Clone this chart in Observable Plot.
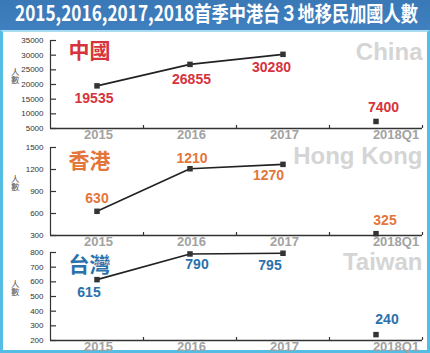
<!DOCTYPE html>
<html>
<head>
<meta charset="utf-8">
<script src="https://cdn.jsdelivr.net/npm/d3@7"></script>
<script src="https://cdn.jsdelivr.net/npm/@observablehq/plot@0.6"></script>
<style>
  html, body { margin: 0; padding: 0; }
  body { width: 430px; height: 353px; position: relative; overflow: hidden; background: #fff; font-family: "Liberation Sans", Arial, sans-serif; }
  #title { position: absolute; left: 0; top: 0; width: 430px; height: 30px; background: linear-gradient(#3a78b6, #3f80c0); }
  #title span { position: absolute; left: 15px; top: 0px; line-height: 25px; font-size: 21px; font-weight: bold; color: #fff; white-space: nowrap; font-family: "Noto Sans CJK TC", "Liberation Sans", sans-serif; transform-origin: 0 50%; }
  #frame { position: absolute; left: 0; top: 30px; width: 430px; height: 323px; box-sizing: border-box; border: 3px solid #55bde3; border-top: 2px solid #a9dcf0; background: #fff; }
  .panel { position: absolute; left: 0; }
</style>
</head>
<body>
<div id="title"><span id="titletext">2015,2016,2017,2018首季中港台３地移民加國人數</span></div>
<div id="frame"></div>
<script>
// ---- data ----
const categories = ["2015", "2016", "2017", "2018Q1"];
const lineCategories = ["2015", "2016", "2017"];
const chinaValues = [19535, 26855, 30280, 7400];
const hongKongValues = [630, 1210, 1270, 325];
const taiwanValues = [615, 790, 795, 240];
const chinaTicks = [5000, 10000, 15000, 20000, 25000, 30000, 35000];
const hongKongTicks = [300, 600, 900, 1200, 1500];
const taiwanTicks = [200, 300, 400, 500, 600, 700, 800];
const panelNames = ["中國", "香港", "台灣"];
const englishNames = ["China", "Hong Kong", "Taiwan"];
const yLabel = "人\n數";

// ---- styling (label offsets, colors, layout) ----
const colors = ["#d6333d", "#e3763b", "#2b71ab"];
const labelOffsets = [
  [[-3, 13], [1.5, 15], [-11.5, 13], [7.5, -14]],
  [[0, -13], [2, -10], [-14.5, 11], [9, -13.5]],
  [[-8, 13], [7, 11], [-13, 12], [11, -15]]
];
const nameDy = [11, 13.3, 12.5];
const engDy = [12, 8.5, 10.3];
const tops = [30, 137, 242];

const W = 430, H = 110, ML = 50, MR = 8, MT = 10, MB = 12;
const bw = (W - ML - MR) / categories.length;

function makePanel(i, values, ticks) {
  const rows = categories.map((c, k) => ({cat: c, v: values[k]}));
  const lineRows = rows.filter(d => lineCategories.includes(d.cat));
  const y0 = ticks[0], y1 = ticks[ticks.length - 1];
  const color = colors[i];
  const marks = [
    // y axis line
    Plot.ruleX([categories[0]], {x: d => d, y1: y0, y2: y1, dx: -bw / 2, stroke: "#333", strokeWidth: 1.2}),
    // y tick labels
    Plot.axisY({ticks, tickFormat: d => String(d), tickSize: 0, tickPadding: 7, fontSize: 8, fill: "#333", fontFamily: "'Liberation Sans Narrow', 'Liberation Sans', Arial, sans-serif"}),
    // inward y ticks
    Plot.axisY({ticks, tickSize: 6, dx: 6, fill: "none", stroke: "#333", strokeWidth: 1.2}),
    // x axis line
    Plot.ruleY([y0], {stroke: "#333", strokeWidth: 1.6}),
    // x boundary ticks
    Plot.axisX({tickSize: 3, dy: -3, dx: bw / 2, fill: "none", stroke: "#333", strokeWidth: 1.2}),
    // x tick labels
    Plot.axisX({ticks: categories.slice(0, 3), tickSize: 0, tickPadding: 1, dx: 1.5, fontSize: 13, fontWeight: "bold", fill: "#a2a2a2"}),
    Plot.axisX({ticks: categories.slice(3), tickSize: 0, tickPadding: 1, dx: 20, fontSize: 13, fontWeight: "bold", fill: "#a2a2a2"}),
    // english watermark
    Plot.text([englishNames[i]], {frameAnchor: "top-right", lineAnchor: "middle", dy: engDy[i], textAnchor: "end", fontSize: 24, fontWeight: "bold", fill: "#d5d5d5"}),
    // panel name
    Plot.text([panelNames[i]], {frameAnchor: "top-left", lineAnchor: "middle", dx: 18, dy: nameDy[i], textAnchor: "start", fontSize: 21, fontWeight: "bold", fill: color, fontFamily: "'Noto Sans CJK TC', sans-serif"}),
    // y label
    Plot.text([yLabel], {frameAnchor: "left", dx: -39.5, dy: -8, lineHeight: 0.9, fontSize: 8.5, fill: "#555", fontFamily: "'Noto Sans CJK TC', sans-serif"}),
    // line
    Plot.line(lineRows, {x: "cat", y: "v", stroke: "#222", strokeWidth: 1.6}),
    // markers
    Plot.dot(rows, {x: "cat", y: "v", symbol: "square", r: 3.1, fill: "#333", stroke: "none"}),
    // value labels
    ...rows.map((d, k) => Plot.text([d], {x: "cat", y: "v", text: d => String(d.v), dx: labelOffsets[i][k][0], dy: labelOffsets[i][k][1], fontSize: 14, fontWeight: "bold", fill: color}))
  ];
  const svg = Plot.plot({
    width: W, height: H,
    marginLeft: ML, marginRight: MR, marginTop: MT, marginBottom: MB,
    style: {background: "transparent", overflow: "visible", fontFamily: "'Liberation Sans', Arial, sans-serif"},
    x: {type: "band", domain: categories, padding: 0, label: null},
    y: {domain: [y0, y1], label: null},
    marks
  });
  svg.classList.add("panel");
  svg.style.position = "absolute";
  svg.style.top = tops[i] + "px";
  svg.style.left = "0px";
  document.body.appendChild(svg);
}

makePanel(0, chinaValues, chinaTicks);
makePanel(1, hongKongValues, hongKongTicks);
makePanel(2, taiwanValues, taiwanTicks);

// fit title width
const t = document.getElementById("titletext");
const w = t.getBoundingClientRect().width;
t.style.transform = `scaleX(${403 / w})`;
</script>
</body>
</html>
